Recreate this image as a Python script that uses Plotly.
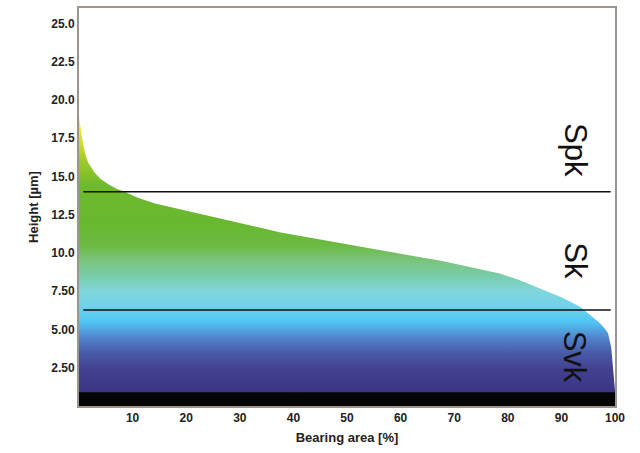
import plotly.graph_objects as go

# Bearing area curve (Abbott-Firestone)
bearing_pct = [0, 0.13, 0.35, 0.75, 1.2, 1.7, 2.9, 4, 5.4, 7, 8.5, 11, 14, 18.8, 25, 30,
               37.4, 45, 50, 56, 60, 67.3, 72, 78.5, 82, 86, 90, 93.5, 95.4, 96.5, 97.2,
               98, 98.7, 99.3, 99.6, 100, 100]
height_um = [18.9, 18.6, 17.8, 17.1, 16.4, 15.9, 15.25, 14.85, 14.5, 14.2, 14.0, 13.6,
             13.25, 12.87, 12.35, 11.95, 11.35, 10.88, 10.56, 10.16, 9.94, 9.5, 9.15,
             8.65, 8.25, 7.7, 7.1, 6.48, 5.95, 5.6, 5.4, 5.1, 4.75, 3.8, 2.5, 1.0, 0.0]

# Zone boundaries and labels
line_heights = [14.0, 6.27]
line_x = [0.8, 99.2]
zone_labels = ["Spk", "Sk", "Svk"]
zone_label_y = [16.7, 9.5, 3.2]
zone_label_x = 92.6
black_band_top = 0.9

x_tickvals = [10, 20, 30, 40, 50, 60, 70, 80, 90, 100]
x_ticktext = ["10", "20", "30", "40", "50", "60", "70", "80", "90", "100"]
y_tickvals = [2.5, 5.0, 7.5, 10.0, 12.5, 15.0, 17.5, 20.0, 22.5, 25.0]
y_ticktext = ["2.50", "5.00", "7.50", "10.0", "12.5", "15.0", "17.5", "20.0", "22.5", "25.0"]

top = max(height_um)
stops = [(0.0, "#3a2f80"), (1.0, "#3c3486"), (2.5, "#42418f"), (3.5, "#4758a6"),
         (4.5, "#5280c8"), (5.6, "#50c6f4"), (6.6, "#70d2ea"), (7.6, "#80d6dc"),
         (8.6, "#78cca8"), (9.6, "#7ac47c"), (10.6, "#6cba42"), (12.0, "#68b830"),
         (14.5, "#6eba2c"), (16.2, "#a4cc2c"), (17.6, "#dce420"), (18.9, "#f8f820")]
colorscale = [[h / top, c] for h, c in stops]

fig = go.Figure()
fig.add_trace(go.Scatter(
    x=bearing_pct, y=height_um, mode="lines", line=dict(width=0),
    fill="tozeroy",
    fillgradient=dict(type="vertical", colorscale=colorscale, start=0, stop=top),
    hoverinfo="skip", showlegend=False))

# black band at bottom
fig.add_trace(go.Scatter(
    x=[0, 100], y=[black_band_top, black_band_top], mode="lines", line=dict(width=0),
    fill="tozeroy", fillcolor="#050505", hoverinfo="skip", showlegend=False))

for h in line_heights:
    fig.add_trace(go.Scatter(x=line_x, y=[h, h], mode="lines",
                             line=dict(color="#111111", width=1.5),
                             hoverinfo="skip", showlegend=False))

for lab, yy in zip(zone_labels, zone_label_y):
    fig.add_annotation(x=zone_label_x, y=yy, text=lab, showarrow=False, textangle=90,
                       font=dict(family="Liberation Sans, Arial", size=31, color="#111111"))

fig.update_layout(
    width=640, height=453,
    margin=dict(l=79, r=25, t=6, b=47),
    paper_bgcolor="white", plot_bgcolor="white",
    font=dict(family="Liberation Sans, Arial", size=12, color="#222222"),
    xaxis=dict(range=[0, 100], tickvals=x_tickvals, ticktext=x_ticktext,
               showgrid=False, zeroline=False, showline=True, linecolor="#9a9590",
               linewidth=2, mirror=True, ticks="",
               tickfont=dict(family="Liberation Sans, Arial", size=12, color="#222222", weight="bold"),
               title=dict(text="<b>Bearing area [%]</b>", standoff=8,
                          font=dict(family="Liberation Sans, Arial", size=13, color="#222222"))),
    yaxis=dict(range=[0, 26], tickvals=y_tickvals, ticktext=y_ticktext,
               showgrid=False, zeroline=False, showline=True, linecolor="#9a9590",
               linewidth=2, mirror=True, ticks="",
               tickfont=dict(family="Liberation Sans, Arial", size=12, color="#222222", weight="bold"),
               title=dict(text="<b>Height [µm]</b>", standoff=10,
                          font=dict(family="Liberation Sans, Arial", size=13, color="#222222"))),
)

fig.write_html("out.html", config={"displayModeBar": False},
               post_script="document.body.style.margin='0';")
